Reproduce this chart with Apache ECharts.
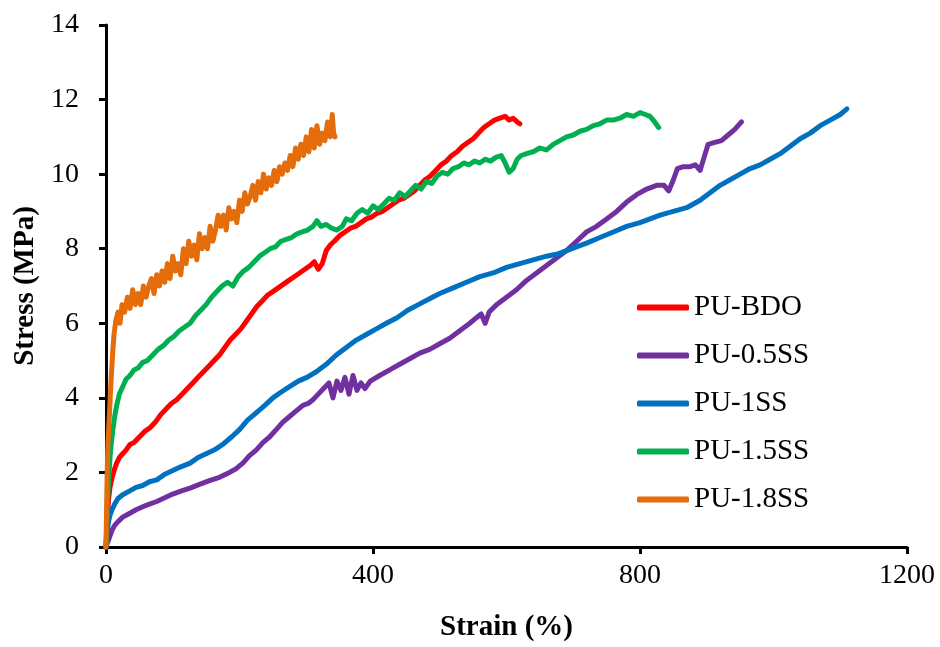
<!DOCTYPE html>
<html>
<head>
<meta charset="utf-8">
<script src="https://cdn.jsdelivr.net/npm/echarts@6/dist/echarts.min.js"></script>
<style>
html,body{margin:0;padding:0;background:#fff;}
#chart{width:940px;height:647px;}
</style>
</head>
<body>
<div id="chart"></div>
<script>
// Series names
const seriesNames = ['PU-BDO', 'PU-0.5SS', 'PU-1SS', 'PU-1.5SS', 'PU-1.8SS'];
// Axis ticks
const xTicks = [0, 400, 800, 1200];
const yTicks = [0, 2, 4, 6, 8, 10, 12, 14];

// [strain %, stress MPa]
const puBDO = [[0,0],[2,0.8],[4,1.3],[6,1.6],[9,1.85],[12,2.05],[16,2.25],[20,2.4],[25,2.5],[30,2.6],[36,2.75],[42,2.8],[50,2.95],[58,3.1],[66,3.2],[74,3.35],[82,3.55],[90,3.7],[98,3.85],[106,3.95],[114,4.1],[122,4.25],[130,4.4],[138,4.55],[146,4.7],[154,4.85],[162,5.0],[170,5.15],[178,5.35],[186,5.55],[194,5.7],[202,5.85],[210,6.05],[218,6.25],[226,6.45],[234,6.6],[242,6.75],[250,6.85],[258,6.95],[266,7.05],[274,7.15],[282,7.25],[290,7.35],[298,7.45],[306,7.55],[312,7.65],[318,7.45],[324,7.6],[330,7.95],[336,8.1],[342,8.2],[350,8.35],[358,8.45],[366,8.55],[374,8.6],[382,8.7],[390,8.8],[398,8.85],[406,8.95],[414,9.0],[422,9.1],[430,9.2],[438,9.3],[446,9.35],[454,9.45],[462,9.55],[470,9.7],[478,9.85],[486,9.95],[494,10.1],[502,10.25],[510,10.35],[518,10.5],[526,10.6],[534,10.75],[542,10.85],[550,10.95],[558,11.1],[566,11.25],[574,11.35],[582,11.45],[590,11.5],[598,11.55],[604,11.45],[610,11.5],[616,11.4],[620,11.35]];

const pu05SS = [[0,0],[2,0.1],[4,0.2],[6,0.3],[9,0.45],[13,0.58],[18,0.68],[25,0.8],[35,0.9],[45,1.0],[55,1.08],[65,1.15],[76,1.22],[88,1.32],[100,1.42],[112,1.5],[126,1.58],[140,1.68],[155,1.78],[170,1.87],[185,2.0],[195,2.1],[205,2.25],[215,2.45],[225,2.6],[235,2.8],[245,2.95],[255,3.15],[265,3.35],[275,3.5],[285,3.65],[295,3.8],[303,3.85],[310,3.95],[318,4.1],[326,4.25],[334,4.4],[340,4.0],[346,4.45],[352,4.2],[358,4.55],[364,4.1],[370,4.6],[376,4.2],[382,4.4],[388,4.25],[396,4.45],[410,4.6],[425,4.75],[440,4.9],[455,5.05],[470,5.2],[485,5.3],[500,5.45],[515,5.6],[530,5.8],[545,6.0],[555,6.15],[562,6.25],[568,6.0],[574,6.3],[585,6.5],[600,6.7],[615,6.9],[630,7.15],[645,7.35],[660,7.55],[675,7.75],[690,7.95],[705,8.2],[720,8.45],[735,8.6],[750,8.8],[765,9.0],[780,9.25],[795,9.45],[810,9.6],[825,9.7],[836,9.7],[843,9.55],[850,9.85],[856,10.15],[865,10.2],[875,10.2],[883,10.25],[890,10.1],[896,10.45],[902,10.8],[912,10.85],[922,10.9],[932,11.05],[942,11.2],[952,11.4]];

const pu1SS = [[0,0],[2,0.45],[4,0.7],[6,0.85],[9,1.0],[13,1.15],[18,1.3],[25,1.4],[35,1.5],[45,1.6],[55,1.65],[65,1.75],[76,1.8],[88,1.95],[100,2.05],[112,2.15],[126,2.25],[138,2.4],[150,2.5],[162,2.6],[175,2.75],[188,2.95],[200,3.15],[212,3.4],[225,3.6],[238,3.8],[250,4.0],[262,4.15],[275,4.3],[288,4.45],[301,4.55],[315,4.7],[330,4.9],[345,5.15],[360,5.35],[375,5.55],[390,5.7],[405,5.85],[420,6.0],[436,6.15],[452,6.35],[468,6.5],[484,6.65],[500,6.8],[520,6.95],[540,7.1],[560,7.25],[580,7.35],[600,7.5],[620,7.6],[640,7.7],[660,7.8],[675,7.85],[690,7.95],[705,8.05],[720,8.15],[740,8.3],[760,8.45],[780,8.6],[800,8.7],[815,8.8],[830,8.9],[850,9.0],[870,9.1],[890,9.3],[905,9.5],[920,9.7],[935,9.85],[950,10.0],[965,10.15],[980,10.25],[995,10.4],[1010,10.55],[1025,10.75],[1040,10.95],[1055,11.1],[1070,11.3],[1085,11.45],[1100,11.6],[1110,11.75]];

const pu15SS = [[0,0],[2,1.0],[4,1.8],[6,2.4],[8,2.8],[10,3.1],[13,3.5],[16,3.8],[20,4.1],[25,4.3],[30,4.5],[36,4.6],[42,4.75],[48,4.8],[55,4.95],[62,5.0],[70,5.15],[78,5.3],[86,5.4],[94,5.55],[102,5.65],[110,5.8],[118,5.9],[126,6.0],[134,6.2],[142,6.35],[150,6.5],[158,6.7],[166,6.85],[174,7.0],[182,7.1],[190,7.0],[198,7.25],[206,7.4],[214,7.5],[222,7.65],[230,7.8],[238,7.9],[246,8.0],[254,8.05],[262,8.2],[270,8.25],[278,8.3],[286,8.4],[294,8.45],[302,8.5],[310,8.6],[316,8.75],[322,8.6],[330,8.65],[338,8.55],[346,8.5],[354,8.6],[360,8.8],[368,8.75],[376,8.95],[384,9.05],[392,8.95],[400,9.15],[408,9.05],[416,9.2],[424,9.35],[432,9.3],[440,9.5],[448,9.4],[456,9.55],[464,9.7],[472,9.6],[480,9.8],[488,9.75],[496,9.95],[504,10.05],[512,10.0],[520,10.15],[528,10.2],[536,10.3],[544,10.25],[552,10.35],[560,10.3],[568,10.4],[576,10.35],[584,10.45],[592,10.5],[598,10.3],[604,10.05],[610,10.15],[616,10.4],[622,10.5],[630,10.55],[640,10.6],[650,10.7],[660,10.65],[670,10.8],[680,10.9],[690,11.0],[700,11.05],[710,11.15],[720,11.2],[730,11.3],[740,11.35],[750,11.45],[760,11.45],[770,11.5],[780,11.6],[790,11.55],[800,11.65],[808,11.6],[815,11.55],[822,11.4],[828,11.25]];

const pu18SS = [[0,0],[1,1.2],[2,2.2],[3,2.8],[5,3.5],[6,3.9],[8,4.6],[10,5.2],[12,5.7],[15,6.1],[18,6.3],[21,6.0],[24,6.5],[28,6.3],[32,6.7],[36,6.4],[40,6.9],[44,6.5],[48,6.8],[52,6.5],[56,7.0],[60,6.7],[64,7.0],[68,7.2],[72,6.8],[76,7.3],[80,7.0],[84,7.4],[88,7.1],[92,7.6],[96,7.2],[100,7.8],[104,7.4],[108,7.6],[112,7.3],[116,8.0],[120,7.6],[124,8.2],[128,7.8],[132,8.1],[136,7.7],[140,8.4],[144,8.0],[148,8.3],[152,8.0],[156,8.6],[160,8.2],[164,8.5],[168,8.9],[172,8.6],[176,8.9],[180,8.5],[184,9.1],[188,8.8],[192,9.0],[196,8.7],[200,9.3],[204,9.0],[208,9.5],[212,9.2],[216,9.4],[220,9.7],[224,9.3],[228,9.8],[232,9.5],[236,10.0],[240,9.6],[244,9.9],[248,9.7],[252,10.1],[256,9.8],[260,10.2],[264,10.0],[268,10.3],[272,10.1],[276,10.5],[280,10.2],[284,10.7],[288,10.4],[292,10.8],[296,10.5],[300,11.0],[304,10.6],[308,11.2],[312,10.7],[316,11.3],[320,10.8],[324,11.1],[328,10.9],[332,11.4],[336,11.0],[339,11.6],[341,11.1],[343,11.0]];

const colors = ['#FF0000', '#7030A0', '#0070C0', '#00B050', '#E46C0A'];
const allData = [puBDO, pu05SS, pu1SS, pu15SS, pu18SS];

const FONT = "'Liberation Serif','Times New Roman',serif";

const chart = echarts.init(document.getElementById('chart'), null, {renderer: 'canvas'});
chart.setOption({
  animation: false,
  backgroundColor: '#fff',
  grid: {left: 106, right: 33, top: 25, bottom: 95, containLabel: false},
  legend: {
    orient: 'vertical',
    left: 632,
    top: 288,
    padding: 5,
    itemWidth: 52,
    itemHeight: 6,
    itemGap: 19,
    icon: 'roundRect',
    textStyle: {fontFamily: FONT, fontSize: 29, color: '#000'},
    data: seriesNames
  },
  xAxis: {
    type: 'value',
    min: xTicks[0],
    max: xTicks[xTicks.length - 1],
    interval: 400,
    name: 'Strain (%)',
    nameLocation: 'middle',
    nameGap: 66,
    nameTextStyle: {fontFamily: FONT, fontSize: 29, fontWeight: 'bold', color: '#000'},
    axisLine: {show: true, lineStyle: {color: '#000', width: 3}},
    axisTick: {show: true, inside: false, length: 7, lineStyle: {color: '#000', width: 3}},
    axisLabel: {fontFamily: FONT, fontSize: 28, color: '#000', margin: 15, formatter: v => String(v)},
    splitLine: {show: false}
  },
  yAxis: {
    type: 'value',
    min: yTicks[0],
    max: yTicks[yTicks.length - 1],
    interval: 2,
    name: 'Stress (MPa)',
    nameLocation: 'middle',
    nameGap: 66,
    nameTextStyle: {fontFamily: FONT, fontSize: 29, fontWeight: 'bold', color: '#000'},
    axisLine: {show: true, lineStyle: {color: '#000', width: 3}},
    axisTick: {show: true, inside: false, length: 7, lineStyle: {color: '#000', width: 3}},
    axisLabel: {fontFamily: FONT, fontSize: 28, color: '#000', margin: 27, formatter: v => String(v)},
    splitLine: {show: false}
  },
  series: seriesNames.map((n, i) => ({
    name: n,
    type: 'line',
    data: allData[i],
    showSymbol: false,
    symbol: 'none',
    color: colors[i],
    lineStyle: {color: colors[i], width: 5, cap: 'round', join: 'round'},
    itemStyle: {color: colors[i]},
    clip: false
  }))
});
</script>
</body>
</html>
